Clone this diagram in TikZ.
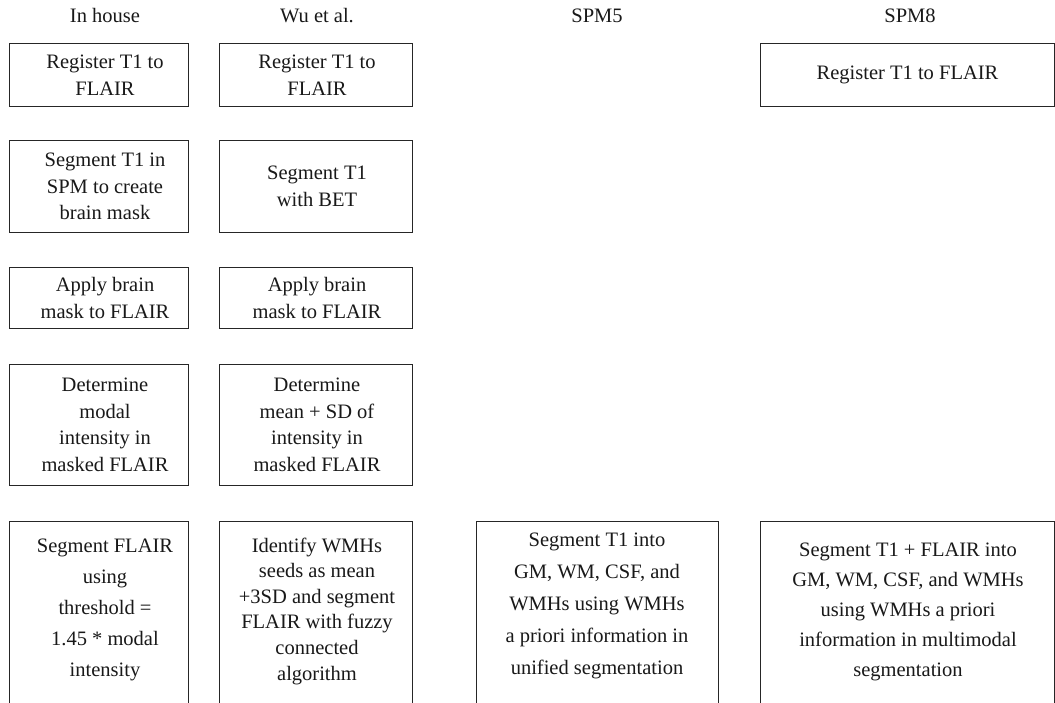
\documentclass[tikz,border=0pt]{standalone}
\usepackage{fontspec}
\setmainfont{Liberation Serif}
\begin{document}
\begin{tikzpicture}[x=1pt,y=-1pt,
  box/.style={draw=black!85,line width=1pt,inner sep=0pt,anchor=north west},
  txt/.style={align=center,inner sep=0pt,font=\fontsize{20.5}{26.5}\selectfont,text=black!90},
  title/.style={inner sep=0pt,font=\fontsize{20.5}{24}\selectfont,text=black!90,anchor=base}]
\clip (0,0) rectangle (1055,702);
\fill[white] (0,0) rectangle (1055,702);
% titles
\node[title] (t1) at (105,22) {In house};
\node[title] (t2) at (317,22) {Wu et al.};
\node[title] (t3) at (597,22) {SPM5};
\node[title] (t4) at (910,22) {SPM8};
% column 1
\node[box,minimum width=179,minimum height=63] (a1) at (9,43) {};
\node[txt] (a1t) at ([xshift=6pt]a1.center) {Register T1 to\\FLAIR};
\node[box,minimum width=179,minimum height=92] (a2) at (9,140) {};
\node[txt] (a2t) at ([xshift=6pt]a2.center) {Segment T1 in\\SPM to create\\brain mask};
\node[box,minimum width=179,minimum height=61] (a3) at (9,267) {};
\node[txt] (a3t) at ([xshift=6pt]a3.center) {Apply brain\\mask to FLAIR};
\node[box,minimum width=179,minimum height=121] (a4) at (9,364) {};
\node[txt] (a4t) at ([xshift=6pt]a4.center) {Determine\\modal\\intensity in\\masked FLAIR};
\node[box,minimum width=179,minimum height=200] (a5) at (9,521) {};
\node[txt,anchor=base,font=\fontsize{20.5}{31}\selectfont] (a5t) at (105,676) {Segment FLAIR\\using\\threshold =\\1.45 * modal\\intensity};
% column 2
\node[box,minimum width=193,minimum height=63] (b1) at (219,43) {};
\node[txt] (b1t) at ([xshift=1pt]b1.center) {Register T1 to\\FLAIR};
\node[box,minimum width=193,minimum height=92] (b2) at (219,140) {};
\node[txt] (b2t) at ([xshift=1pt]b2.center) {Segment T1\\with BET};
\node[box,minimum width=193,minimum height=61] (b3) at (219,267) {};
\node[txt] (b3t) at ([xshift=1pt]b3.center) {Apply brain\\mask to FLAIR};
\node[box,minimum width=193,minimum height=121] (b4) at (219,364) {};
\node[txt] (b4t) at ([xshift=1pt]b4.center) {Determine\\mean + SD of\\intensity in\\masked FLAIR};
\node[box,minimum width=193,minimum height=200] (b5) at (219,521) {};
\node[txt,anchor=base,font=\fontsize{20.5}{25.6}\selectfont] (b5t) at (317,680) {Identify WMHs\\seeds as mean\\+3SD and segment\\FLAIR with fuzzy\\connected\\algorithm};
% column 3
\node[box,minimum width=242,minimum height=200] (c5) at (476,521) {};
\node[txt,anchor=base,font=\fontsize{20.5}{32}\selectfont] (c5t) at (597,674) {Segment T1 into\\GM, WM, CSF, and\\WMHs using WMHs\\a priori information in\\unified segmentation};
% column 4
\node[box,minimum width=294,minimum height=63] (d1) at (760,43) {};
\node[txt] (d1t) at (d1.center) {Register T1 to FLAIR};
\node[box,minimum width=294,minimum height=200] (d5) at (760,521) {};
\node[txt,anchor=base,font=\fontsize{20.5}{30}\selectfont] (d5t) at (908,676) {Segment T1 + FLAIR into\\GM, WM, CSF, and WMHs\\using WMHs a priori\\information in multimodal\\segmentation};
\end{tikzpicture}
\end{document}
